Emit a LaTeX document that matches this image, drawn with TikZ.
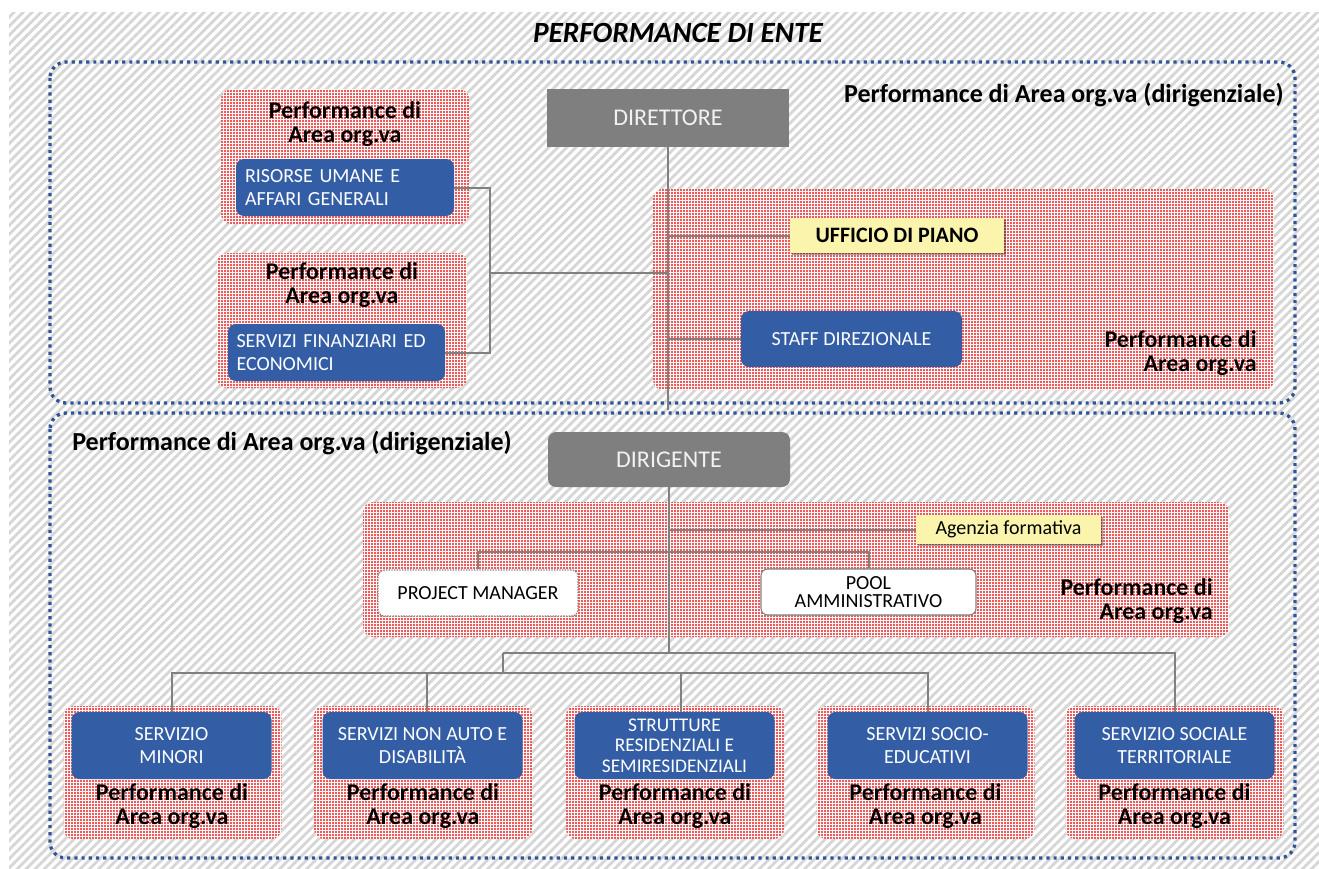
\documentclass[tikz,border=0pt]{standalone}
\usepackage{fontspec}
\setmainfont{Carlito}
\usetikzlibrary{patterns.meta,shadows}
\definecolor{hatch}{RGB}{214,214,214}
\definecolor{blueframe}{RGB}{47,85,151}
\definecolor{bluebox}{RGB}{51,94,166}
\definecolor{grayfill}{RGB}{127,127,127}
\definecolor{conncol}{RGB}{128,128,128}
\definecolor{yel}{RGB}{250,244,172}
\definecolor{dotred}{RGB}{232,30,30}
\tikzset{
  redarea/.style={rounded corners=7.5pt, preaction={fill=white}, pattern={Dots[distance=2.25pt,radius=0.85pt]}, pattern color=dotred},
  frame/.style={draw=blueframe, line width=2.5pt, dash pattern=on 2.4pt off 3pt, rounded corners=12pt},
  bluebox/.style={draw=none, fill=bluebox, rounded corners=6pt, text=white, inner sep=0pt, font=\fontsize{15}{17}\selectfont},
  boldlbl/.style={inner sep=0pt, font=\fontsize{18}{18}\selectfont\bfseries},
  framelbl/.style={inner sep=0pt, font=\fontsize{19.5}{20}\selectfont\bfseries},
  graybox/.style={fill=grayfill, draw=none, text={rgb,255:red,242;green,242;blue,242}, inner sep=0pt, font=\fontsize{18}{20}\selectfont, minimum width=181.5pt},
  yelbox/.style={fill=yel, draw=none, inner sep=0pt, drop shadow={shadow xshift=1.5pt,shadow yshift=-1.5pt,fill=black,opacity=0.35}},
  whitebox/.style={fill=white, rounded corners=5pt, inner sep=0pt, font=\fontsize{15}{13.5}\selectfont},
  conn/.style={draw=conncol, line width=1.5pt},
}
\begin{document}
\begin{tikzpicture}[x=0.75pt,y=-0.75pt]
\useasboundingbox (0,0) rectangle (1319,868);
\fill[white] (0,0) rectangle (1319,868);
\path[pattern={Lines[angle=45,distance=4.8pt,line width=2.1pt]}, pattern color=hatch] (9,12) rectangle (1319,868);

% title
\node[inner sep=0pt, font=\fontsize{22}{24}\selectfont\bfseries\itshape] (title) at (678,33) {PERFORMANCE DI ENTE};

% frames
\draw[frame] (50,62) rectangle (1295,403);
\draw[frame] (50,413) rectangle (1295,858);

\node[framelbl, anchor=east] (lbltop) at (1284,95) {Performance di Area org.va (dirigenziale)};
\node[framelbl, anchor=west] (lblbot) at (72,443) {Performance di Area org.va (dirigenziale)};

% red areas
\path[redarea] (221,89) rectangle (469,224);
\path[redarea] (217,253) rectangle (467,388);
\path[redarea] (653,189) rectangle (1274,390);
\path[redarea] (363,502) rectangle (1229,637);
\foreach \cx in {172.5,423,675,925.5,1174.5}{
  \path[redarea] (\cx-109,706) rectangle (\cx+109,839);
}

% top section
\node[graybox, minimum height=43.5pt] (dir) at (668,118) {DIRETTORE};
\node[boldlbl, align=center] (plA1) at (345,124) {Performance di\\Area org.va};
\node[bluebox, minimum width=163.5pt, minimum height=42.75pt, text width=150pt, align=left] (ris) at (345,187.5) {RISORSE UMANE E\\AFFARI GENERALI};
\node[boldlbl, align=center] (plA2) at (342,285) {Performance di\\Area org.va};
\node[bluebox, minimum width=162.75pt, minimum height=42.75pt, text width=150pt, align=left] (fin) at (336.5,352.5) {SERVIZI FINANZIARI ED\\ECONOMICI};
\node[yelbox, minimum width=160.5pt, minimum height=26.25pt, font=\fontsize{16.5}{18}\selectfont\bfseries] (uff) at (897,235.5) {UFFICIO DI PIANO};
\node[bluebox, minimum width=165.75pt, minimum height=42pt] (staff) at (851.5,339) {STAFF DIREZIONALE};
\node[boldlbl, align=right, anchor=east] (plA3) at (1257,353.5) {Performance di\\Area org.va};

\coordinate (jL) at (490,273);
\coordinate (dirEnd) at (668,410);
\draw[conn] (ris.east) -| (jL) |- (fin.east);
\draw[conn] (jL) -- (jL -| dir.south);
\draw[conn] (dir.south) -- (dirEnd);
\draw[conn] (uff.west) -- (uff.west -| dir.south);
\draw[conn] (staff.west) -- (staff.west -| dir.south);

% lower section
\node[graybox, rounded corners=6pt, minimum height=41.25pt] (dirig) at (669,459.5) {DIRIGENTE};
\node[yelbox, minimum width=138.75pt, minimum height=21.75pt, font=\fontsize{15}{17}\selectfont] (agz) at (1008.5,529.5) {Agenzia formativa};
\node[whitebox, draw=conncol, densely dotted, line width=1pt, minimum width=150pt, minimum height=34.5pt] (pm) at (478,593) {PROJECT MANAGER};
\node[whitebox, draw=conncol, line width=0.8pt, minimum width=161.25pt, minimum height=34.5pt, align=center] (pool) at (868.5,592) {POOL\\AMMINISTRATIVO};
\node[boldlbl, align=right, anchor=east] (plB) at (1213,601.5) {Performance di\\Area org.va};

\coordinate (jB) at (700,552);
\draw[conn] (dirig.south) -- (dirig.south |- 0,653);
\draw[conn] (agz.west) -- (agz.west -| dirig.south);
\draw[conn] (pm.north) |- (jB) -| (pool.north);

% bottom services
\node[bluebox, minimum width=150pt, minimum height=50.25pt, align=center] (s1) at (171.5,745.5) {SERVIZIO\\MINORI};
\node[bluebox, minimum width=150pt, minimum height=50.25pt, align=center] (s2) at (422.5,745.5) {SERVIZI NON AUTO E\\DISABILITÀ};
\node[bluebox, minimum width=150pt, minimum height=50.25pt, align=center, font=\fontsize{14.5}{15.5}\selectfont] (s3) at (674.5,745.5) {STRUTTURE\\RESIDENZIALI E\\SEMIRESIDENZIALI};
\node[bluebox, minimum width=150pt, minimum height=50.25pt, align=center] (s4) at (927.5,745.5) {SERVIZI SOCIO-\\EDUCATIVI};
\node[bluebox, minimum width=150pt, minimum height=50.25pt, align=center] (s5) at (1174.5,745.5) {SERVIZIO SOCIALE\\TERRITORIALE};
\foreach \n/\cx in {1/172,2/423,3/675,4/925.5,5/1174.5}{
  \node[boldlbl, align=center] (pb\n) at (\cx,806) {Performance di\\Area org.va};
}

\coordinate (b1) at (503,653);
\coordinate (b2) at (503,673);
\coordinate (v2) at (427,673);
\coordinate (v3) at (681,673);
\draw[conn] (b1) -| (s5.north);
\draw[conn] (b1) -- (b2);
\draw[conn] (b2) -| (s1.north);
\draw[conn] (v2) -- (v2 |- s2.north);
\draw[conn] (v3) -- (v3 |- s3.north);
\draw[conn] (b2) -| (s4.north);
\end{tikzpicture}
\end{document}
